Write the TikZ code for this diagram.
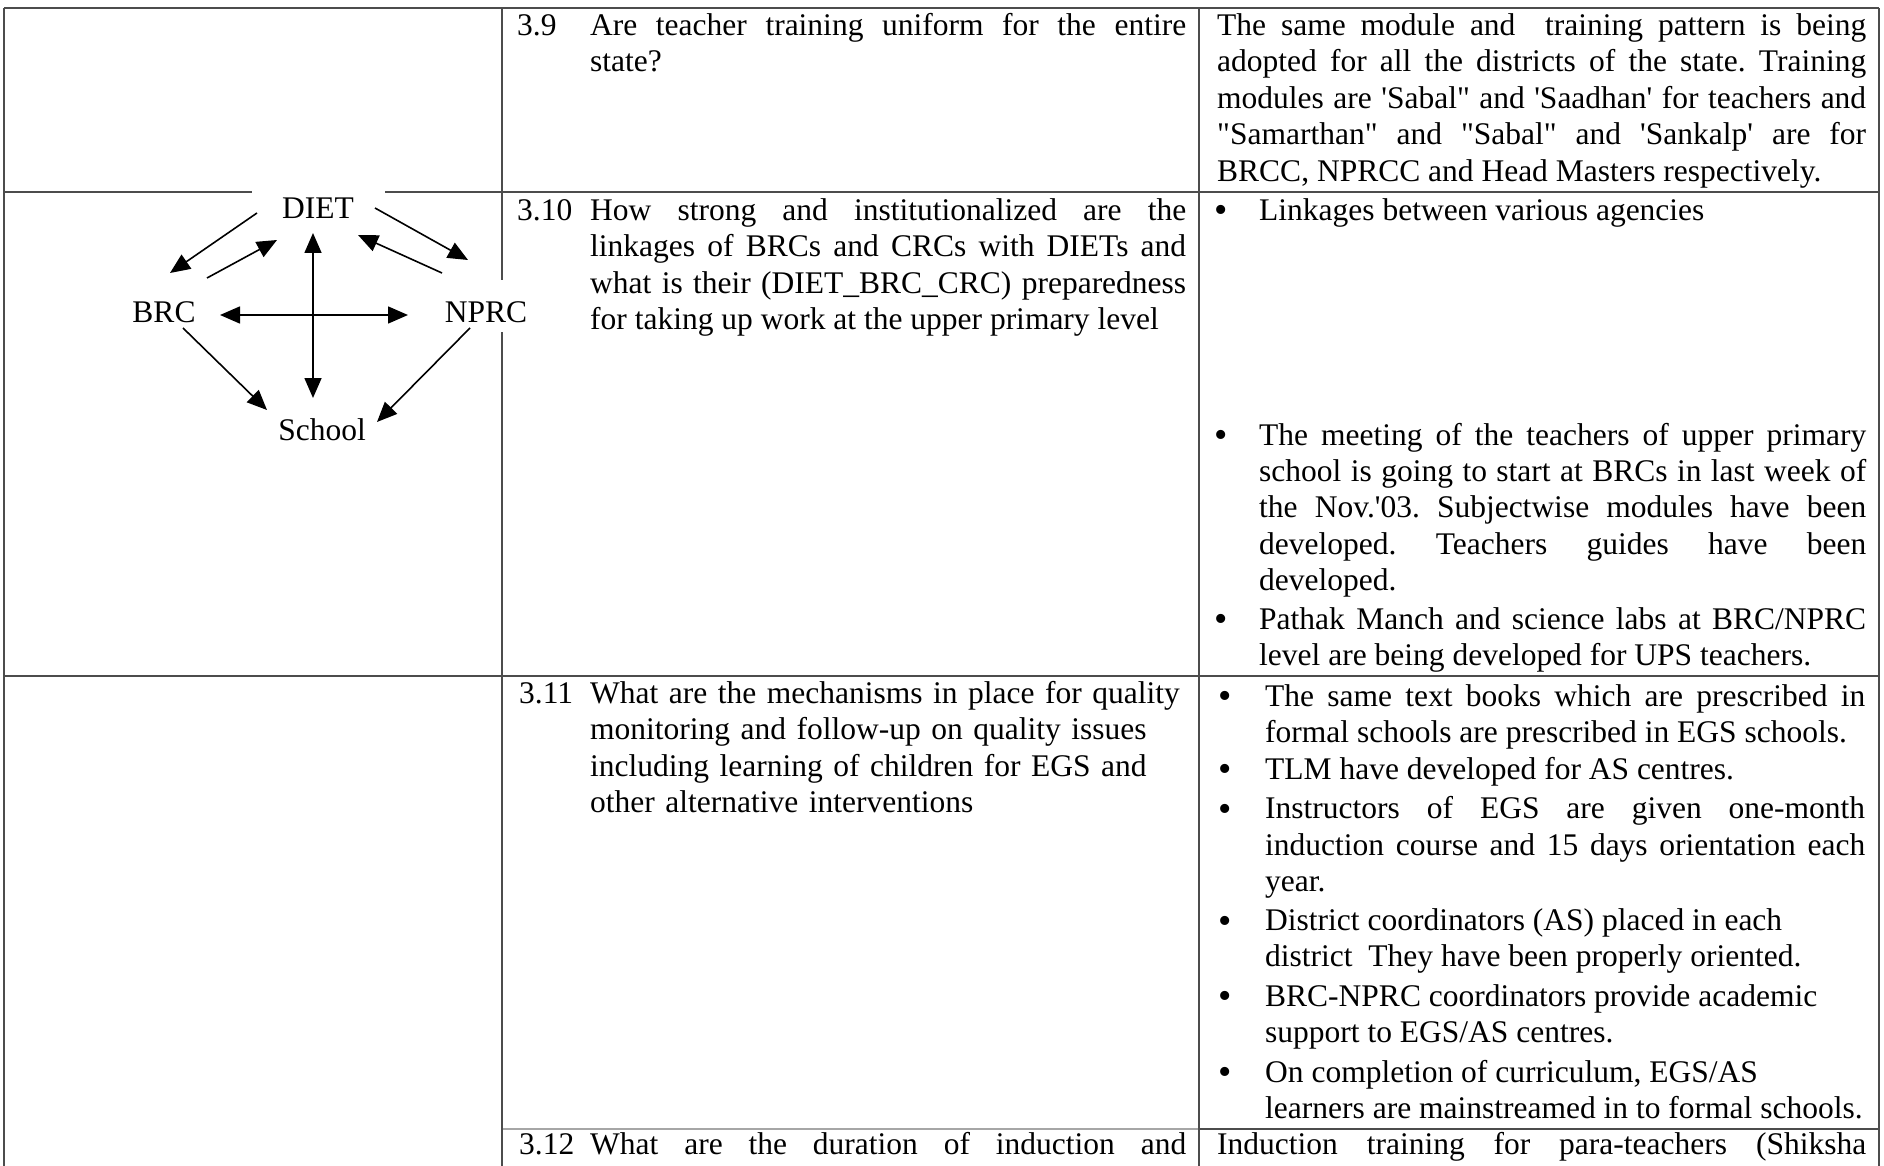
\documentclass[tikz,border=0pt]{standalone}
\usepackage{fontspec}
\setmainfont{Liberation Serif}[Ligatures=TeXOff]
\usetikzlibrary{arrows.meta}
\hyphenpenalty=10000
\tolerance=10000
\frenchspacing

\tikzset{
  rule/.style={draw=black!70, line width=1.1pt},
  txt/.style={anchor=base west, font=\fontsize{31.5}{36.4}\selectfont},
  qbox/.style={txt, text width=596pt, align=justify},
  abox/.style={txt, text width=607pt, align=justify},
  cbox/.style={txt, text width=600pt, align=justify},
  dot/.style={anchor=base west, font=\fontsize{38}{36.4}\selectfont},
  lbl/.style={anchor=base, font=\fontsize{31.5}{36.4}\selectfont},
  link/.style={line width=1.6pt, -{Triangle[length=20pt,width=17pt]}},
  both/.style={line width=1.6pt, {Triangle[length=20pt,width=17pt]}-{Triangle[length=20pt,width=17pt]}},
}

\begin{document}
\begin{tikzpicture}[x=1pt,y=-1pt]
\tikzstyle{every node}+=[inner sep=0pt]
\useasboundingbox (0,0) rectangle (1884,1166);
% table rules
\draw [rule] (4,8) -- (1879,8);
\draw [rule] (4,192) -- (252,192);
\draw [rule] (385,192) -- (1879,192);
\draw [rule] (4,676) -- (1879,676);
\draw [rule, draw=black!35] (502,1129) -- (1199,1129);
\draw [rule] (1199,1129) -- (1879,1129);
\draw [rule] (4,8) -- (4,1166);
\draw [rule] (502,8) -- (502,280);
\draw [rule] (502,332) -- (502,1166);
\draw [rule] (1199,8) -- (1199,1166);
\draw [rule] (1879,8) -- (1879,1166);

% linkage diagram
\node [lbl] (diet) at (318,219) {DIET};
\node [lbl] (brc) at (164,323) {BRC};
\node [lbl] (nprc) at (486,323) {NPRC};
\node [lbl] (school) at (322,440) {School};
\draw [link] ([shift={(-61,-6)}]diet.base) -- ([shift={(6,-50)}]brc.base);
\draw [link] ([shift={(43,-45)}]brc.base) -- ([shift={(-41,21)}]diet.base);
\draw [link] ([shift={(57,-11)}]diet.base) -- ([shift={(-18,-63)}]nprc.base);
\draw [link] ([shift={(-44,-50)}]nprc.base) -- ([shift={(40,16)}]diet.base);
\draw [both] ([shift={(-5,14)}]diet.base) -- ([shift={(-9,-42)}]school.base);
\draw [both] ([shift={(56,-8)}]brc.base) -- ([shift={(-78,-8)}]nprc.base);
\draw [link] ([shift={(19,5)}]brc.base) -- ([shift={(-55,-30)}]school.base);
\draw [link] ([shift={(-16,5)}]nprc.base) -- ([shift={(55,-18)}]school.base);

% row 3.9
\node [txt] (n39) at (517,35.5) {3.9};
\node [qbox] (q39) at (590,35.5) {Are teacher training uniform for the entire\linebreak state?};
\node [txt, text width=649pt, align=justify] (a39) at (1217,35.5) {The same module and~ training pattern is being\linebreak adopted for all the districts of the state. Training\linebreak modules are 'Sabal" and 'Saadhan' for teachers and\linebreak "Samarthan" and "Sabal" and 'Sankalp' are for\linebreak BRCC, NPRCC and Head Masters respectively.};

% row 3.10
\node [txt] (n310) at (517,220.5) {3.10};
\node [qbox] (q310) at (590,220.5) {How strong and institutionalized are the\linebreak linkages of BRCs and CRCs with DIETs and\linebreak what is their (DIET\_BRC\_CRC) preparedness\linebreak for taking up work at the upper primary level};
\node [dot] (d1) at (1214,223) {\textbullet};
\node [abox] (a310a) at (1259,220.5) {Linkages between various agencies};
\node [dot] (d2) at (1214,447.5) {\textbullet};
\node [abox] (a310b) at (1259,445) {The meeting of the teachers of upper primary\linebreak school is going to start at BRCs in last week of\linebreak the Nov.'03. Subjectwise modules have been\linebreak developed. Teachers guides have been\linebreak developed.};
\node [dot] (d3) at (1214,631.5) {\textbullet};
\node [abox] (a310c) at (1259,629) {Pathak Manch and science labs at BRC/NPRC\linebreak level are being developed for UPS teachers.};

% row 3.11
\node [txt] (n311) at (519,703.5) {3.11};
\node [txt, text width=596pt, align=left] (q311) at (590,703.5) {What are the mechanisms in place for quality\newline monitoring and follow-up on quality issues\newline including learning of children for EGS and\newline other alternative interventions};
\node [dot] (e1) at (1218,708.5) {\textbullet};
\node [cbox] (a311a) at (1265,706) {The same text books which are prescribed in\linebreak formal schools are prescribed in EGS schools.};
\node [dot] (e2) at (1218,781.5) {\textbullet};
\node [cbox] (a311b) at (1265,779) {TLM have developed for AS centres.};
\node [dot] (e3) at (1218,821.3) {\textbullet};
\node [cbox] (a311c) at (1265,818.8) {Instructors of EGS are given one-month\linebreak induction course and 15 days orientation each\linebreak year.};
\node [dot] (e4) at (1218,933) {\textbullet};
\node [cbox] (a311d) at (1265,930.5) {District coordinators (AS) placed in each\newline district~ They have been properly oriented.};
\node [dot] (e5) at (1218,1008.5) {\textbullet};
\node [cbox] (a311e) at (1265,1006) {BRC-NPRC coordinators provide academic\newline support to EGS/AS centres.};
\node [dot] (e6) at (1218,1084.5) {\textbullet};
\node [cbox] (a311f) at (1265,1082) {On completion of curriculum, EGS/AS\newline learners are mainstreamed in to formal schools.};

% row 3.12 (cut by the page edge)
\node [txt] (n312) at (519,1154) {3.12};
\node [txt] (q312) at (590,1154) {\makebox[596pt][s]{What are the duration of induction and}};
\node [txt] (a312) at (1217,1154) {\makebox[649pt][s]{Induction training for para-teachers (Shiksha}};
\end{tikzpicture}
\end{document}
